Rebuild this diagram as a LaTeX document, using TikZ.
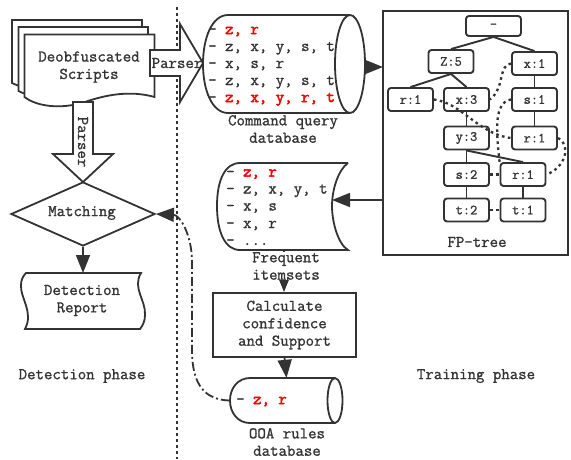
\documentclass[tikz,border=0pt]{standalone}
\usepackage{fontspec}
\setmainfont[RawFeature={embolden=1.2},BoldFont={Latin Modern Mono},BoldFeatures={RawFeature={embolden=3}}]{Latin Modern Mono}
\usetikzlibrary{shapes.geometric,arrows.meta}
\definecolor{ink}{HTML}{333333}
\tikzset{
  every node/.style={text=ink,font=\fontsize{16.4}{17.4}\selectfont,inner sep=0pt},
  ln/.style={draw=ink,line width=1.8pt,line join=miter},
  bigtip/.style={-{Triangle[length=18pt,width=14pt]},ink,draw=ink,line width=1.8pt},
  captxt/.style={align=center,fill=white},
  tn/.style={draw=ink,line width=1.9pt,rounded corners=3pt,minimum width=45pt,minimum height=23pt,font=\fontsize{14}{14}\selectfont},
  te/.style={draw=ink,line width=1.9pt},
  dt/.style={draw=ink,line width=2.3pt,dash pattern=on 2.6pt off 3.4pt},
  row/.style={anchor=base west},
}
\begin{document}
\begin{tikzpicture}[x=1pt,y=-1pt]
\useasboundingbox (0,0) rectangle (571,459);
% divider
\draw[ink,line width=2.3pt,dash pattern=on 2.6pt off 3.4pt] (177,7) -- (177,459);
% stacked documents
\path[ln,fill=white] (12,20) -- (142,20) -- (142,77) .. controls (125,72) and (105,82) .. (85,88) .. controls (60,92) and (30,92) .. (12,83) -- cycle;
\path[ln,fill=white] (18.5,27) -- (148,27) -- (148,85) .. controls (130,80) and (110,90) .. (90,96) .. controls (65,100) and (36,100) .. (18.5,91) -- cycle;
\path[ln,fill=white] (24.5,34.5) -- (154.5,34.5) -- (154.5,97) .. controls (130,90) and (105,95) .. (85,102) .. controls (60,110) and (36,106) .. (24.5,97) -- cycle;
\node[align=center] (scripts) at (89,67) {Deobfuscated\\Scripts};
% block arrow right
\path[ln,fill=white] (150,50) -- (180,50) -- (180,24) -- (203,63) -- (180,102) -- (180,76) -- (150,76) -- cycle;
% block arrow down
\path[ln,fill=white] (73,102) -- (93,102) -- (93,154) -- (113,154) -- (83,182) -- (53,154) -- (73,154) -- cycle;
\node[rotate=-90] (pdown) at (83,142) {Parser};
% matching
\node[diamond,ln,fill=white,minimum width=144pt,minimum height=64pt,aspect=2.25] (match) at (83,214) {};
\node (matchtxt) at (82,213) {Matching};
% report
\path[ln,fill=white] (26,273) -- (141,273) .. controls (132,288) and (146,300) .. (145,315) .. controls (145,321) and (143,325) .. (140,329) -- (25,329) .. controls (34,312) and (20,298) .. (21,285) .. controls (21,280) and (23,276) .. (26,273) -- cycle;
\node[align=center] (report) at (82,300.5) {Detection\\Report};
\coordinate (reporttop) at (83,273);
\draw[bigtip] (match.south) -- (reporttop);
\node (dphase) at (82,376) {Detection phase};
\node (tphase) at (476,376) {Training phase};
% command cylinder
\path[ln,fill=white] (350,15) -- (228,15) .. controls (212,15) and (203,38) .. (203,64) .. controls (203,90) and (212,113) .. (228,113) -- (350,113);
\foreach \yy/\tt in {47/{z, x, y, s, t},81/{z, x, y, s, t},64/{x, s, r}} \node[row] at (208,\yy+4) {- \tt};
\node[row] at (208,34) {- \textcolor{red}{\bfseries z, r}};
\node[row] at (208,102) {- \textcolor{red}{\bfseries z, x, y, r, t}};
\draw[ln] (350,64) ellipse [x radius=15,y radius=49];
\node[minimum width=163pt,minimum height=98pt] (cmd) at (284,64) {};
\node[align=center] (cmdcap) at (283,129) {Command query\\database};
% parser text on top
\node (pright) at (177,63) {Parser};
% FP-tree box
\node[ln,minimum width=185pt,minimum height=244pt] (fp) at (475.5,133) {};
\node[tn,minimum width=55pt,minimum height=20pt] (root) at (493.5,26) {-};
\node[tn] (z5) at (451,61.5) {Z:5};
\node[tn] (x1) at (534.5,63.5) {x:1};
\node[tn] (r1a) at (410.5,99.5) {r:1};
\node[tn] (x3) at (466.5,99.5) {x:3};
\node[tn] (s1) at (534.5,99.5) {s:1};
\node[tn] (y3) at (466.5,138) {y:3};
\node[tn] (r1b) at (534.5,138) {r:1};
\node[tn] (s2) at (466.5,174.5) {s:2};
\node[tn] (r1c) at (523,174.5) {r:1};
\node[tn] (t2) at (466.5,210) {t:2};
\node[tn] (t1) at (523,210) {t:1};
\node (fpcap) at (477,242) {FP-tree};
\draw[te] (root.south) -- (z5.north);
\draw[te] (root.south) -- (x1.north);
\draw[te] (z5.south) -- (r1a.north);
\draw[te] (z5.south) -- (x3.north);
\draw[te] (x1) -- (s1);
\draw[te] (s1) -- (r1b);
\draw[te] (x3) -- (y3);
\draw[te] (y3) -- (s2);
\draw[te] (y3.south) -- (r1c.north);
\draw[te] (s2) -- (t2);
\draw[te] (r1c) -- (t1);
\draw[dt] (x1.west) .. controls (498,65) and (505,88) .. (x3.east);
\draw[dt] (s1.west) .. controls (494,102) and (496,130) .. (r1c.north west);
\draw[dt] (r1a.east) .. controls (462,103) and (478,134) .. (r1b.west);
\draw[dt] (r1b.east) .. controls (572,145) and (565,168) .. (r1c.east);
\draw[dt] (s2.east) -- (r1c.west);
\draw[dt] (t2.east) -- (t1.west);
% arrow cmd -> fp
\coordinate (cmdout) at (365,67);
\coordinate (fpin) at (383,67);
\draw[bigtip] (cmdout) -- (fpin);
% frequent cylinder
\path[ln,fill=white] (348,163) -- (240,163) .. controls (225,163) and (217,180) .. (217,206) .. controls (217,232) and (225,250) .. (240,250) -- (348,250) .. controls (338,244) and (332,222) .. (332,206) .. controls (332,190) and (338,170) .. (348,163);
\node[row] at (226,176.5) {- \textcolor{red}{\bfseries z, r}};
\node[row] at (226,193.5) {- z, x, y, t};
\node[row] at (226,210.5) {- x, s};
\node[row] at (226,228) {- x, r};
\node[row] at (226,245) {- ...};
\node[minimum width=131pt,minimum height=87pt] (freq) at (282.5,206.5) {};
\coordinate (freqin) at (332,200);
\coordinate (fpout) at (383,200);
\draw[bigtip] (fpout) -- (freqin);
% calc box
\node[ln,minimum width=143pt,minimum height=64pt,align=center] (calc) at (284.5,325) {Calculate\\confidence\\and Support};
\coordinate (freqfoot) at (284,250);
\draw[bigtip] (freqfoot) -- (calc.north -| freqfoot);
\node[captxt] (freqcap) at (286,266) {Frequent\\itemsets};
% ooa cylinder
\path[ln,fill=white] (335,378) -- (250,378) .. controls (238,378) and (230,388) .. (230,400.5) .. controls (230,413) and (238,423) .. (250,423) -- (335,423);
\draw[ln] (335,400.5) ellipse [x radius=7.5,y radius=22.5];
\node[row] at (236,404) {- \textcolor{red}{\bfseries z, r}};
\node[minimum width=113pt,minimum height=45pt] (ooa) at (286.5,400.5) {};
\draw[bigtip] (calc.south) -- (ooa.north);
\node[align=center] (ooacap) at (287,442) {OOA rules\\database};
% dash-dot feedback
\draw[ink,line width=1.8pt,dash pattern=on 9pt off 3pt on 2pt off 3pt,-{Triangle[length=18pt,width=14pt,fill=ink,sharp]}] (ooa.west) .. controls (205,400) and (192,385) .. (192,350) -- (192,262) .. controls (192,235) and (180,215) .. (match.east);
\end{tikzpicture}
\end{document}
